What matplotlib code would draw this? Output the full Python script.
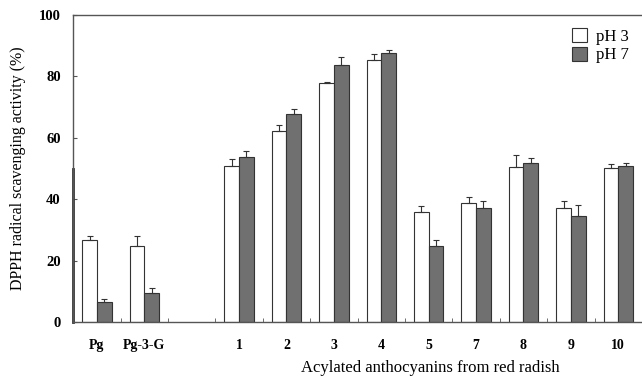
import numpy as np
import matplotlib
matplotlib.use('Agg')
import matplotlib.pyplot as plt

plt.rcParams['font.family'] = ['Liberation Serif', 'DejaVu Serif']

labels = ['Pg', 'Pg-3-G', '', '1', '2', '3', '4', '5', '7', '8', '9', '10']
ph3 = [26.7, 24.8, 0, 50.9, 62.2, 77.9, 85.2, 35.8, 38.9, 50.4, 37.2, 50.1]
ph3_err = [1.2, 3.2, 0, 2.1, 2.0, 0.4, 2.1, 2.1, 1.9, 4.1, 2.2, 1.4]
ph7 = [6.4, 9.5, 0, 53.8, 67.9, 83.8, 87.6, 24.8, 37.2, 51.9, 34.6, 50.9]
ph7_err = [1.1, 1.5, 0, 2.0, 1.6, 2.4, 1.0, 2.0, 2.1, 1.5, 3.6, 0.9]

x = np.arange(len(labels))
w = 0.31
has = np.array([l != '' for l in labels])

fig = plt.figure(figsize=(6.42, 3.77), dpi=100)
ax = fig.add_axes([0.114, 0.146, 0.886, 0.814])

ekw = dict(ecolor='#333333', elinewidth=0.8, capsize=2.5, capthick=0.8)
ax.bar(x[has] - w/2, np.array(ph3)[has], w, color='white', edgecolor='#333333', linewidth=0.8,
       yerr=[np.zeros(has.sum()), np.array(ph3_err)[has]], error_kw=ekw, label='pH 3')
ax.bar(x[has] + w/2, np.array(ph7)[has], w, color='#707070', edgecolor='#333333', linewidth=0.8,
       yerr=[np.zeros(has.sum()), np.array(ph7_err)[has]], error_kw=ekw, label='pH 7')

ax.set_xlim(-0.5, len(labels) - 0.5)
ax.set_ylim(0, 100)
ax.set_yticks([0, 20, 40, 60, 80, 100])
ax.set_xticks(x)
ax.set_xticklabels(labels, fontweight='bold', fontsize=10)
ax.set_xticks(np.arange(0.5, len(labels) - 0.5, 1), minor=True)
ax.tick_params(axis='x', which='major', length=0, pad=12)
ax.tick_params(axis='x', which='minor', direction='in', length=3, color='#555555')
ax.tick_params(axis='y', direction='in', length=3, labelsize=10.5, pad=9, color='#555555')
for t in ax.get_yticklabels():
    t.set_fontweight('bold')

ax.spines['right'].set_visible(False)
for s in ['left', 'bottom', 'top']:
    ax.spines[s].set_color('#555555')
    ax.spines[s].set_linewidth(1.0)
ax.plot([-0.5, -0.5], [0, 50], color='#333333', lw=2.0, clip_on=False)

ax.set_ylabel('DPPH radical scavenging activity (%)', fontsize=11.5)
ax.yaxis.set_label_coords(-0.083, 0.5)
ax.set_xlabel('Acylated anthocyanins from red radish', fontsize=12)
ax.xaxis.set_label_coords(0.627, -0.125)

ax.legend(loc='upper right', frameon=False, fontsize=12, handlelength=0.9, handleheight=0.9,
          handletextpad=0.5, labelspacing=0.1, borderaxespad=0.4, bbox_to_anchor=(1.0, 1.0))

plt.savefig('out.png', dpi=100)
plt.close()
